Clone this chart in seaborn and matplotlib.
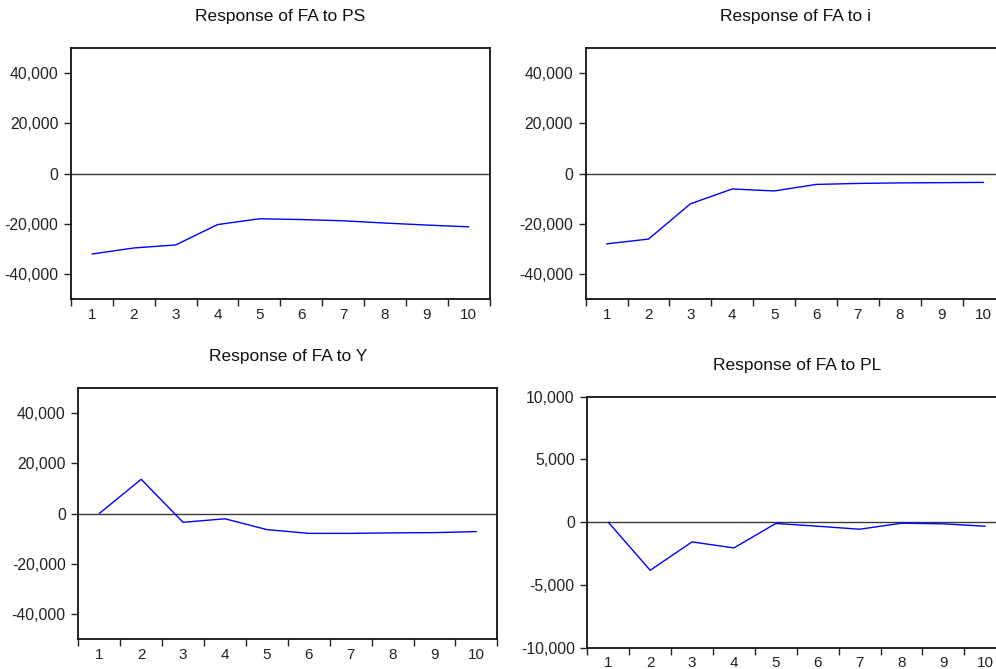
import matplotlib
matplotlib.use("Agg")
import matplotlib.pyplot as plt
import seaborn as sns
import pandas as pd
from matplotlib.ticker import FixedLocator, FuncFormatter, NullFormatter

sns.set_theme(style="white")
plt.rcParams['font.family'] = ['Liberation Sans', 'DejaVu Sans']

periods = [1, 2, 3, 4, 5, 6, 7, 8, 9, 10]
resp_ps = [-32000, -29600, -28400, -20300, -18000, -18300, -18800, -19700, -20500, -21200]
resp_i = [-27900, -26000, -12000, -6100, -6900, -4300, -3900, -3700, -3600, -3500]
resp_y = [0, 13600, -3500, -2100, -6400, -7900, -7900, -7700, -7600, -7200]
resp_pl = [0, -3830, -1570, -2050, -100, -320, -560, -80, -130, -320]

titles = ["Response of FA to PS", "Response of FA to i", "Response of FA to Y", "Response of FA to PL"]
series = [resp_ps, resp_i, resp_y, resp_pl]
ylims = [(-50000, 50000), (-50000, 50000), (-50000, 50000), (-10000, 10000)]
yticks = [[-40000, -20000, 0, 20000, 40000]] * 3 + [[-10000, -5000, 0, 5000, 10000]]

W, H = 996, 669
# axes boxes in pixels: left, top, right, bottom
boxes = [(71, 47.7, 489.7, 299.3),
         (585.7, 47.7, 1004.5, 299.5),
         (78.3, 387.7, 497.3, 639.3),
         (587.3, 396.7, 1006.2, 647.7)]

fig = plt.figure(figsize=(W / 100, H / 100), dpi=100)

for k in range(4):
    l, t, r, b = boxes[k]
    ax = fig.add_axes([l / W, 1 - b / H, (r - l) / W, (b - t) / H])
    df = pd.DataFrame({"period": periods, "value": series[k]})
    ax.axhline(0, color="#3a3a3a", lw=1.0, zorder=1)
    sns.lineplot(data=df, x="period", y="value", ax=ax, color="#0000ff", lw=1.0, zorder=3)
    ax.set_xlim(0.5, 10.5)
    ax.set_ylim(*ylims[k])
    ax.set_xlabel("")
    ax.set_ylabel("")
    ax.set_title(titles[k], fontsize=12.5, pad=19, color="#111111")
    # x ticks: marks between periods, labels at periods
    ax.xaxis.set_major_locator(FixedLocator([p - 0.5 for p in periods] + [10.5]))
    ax.xaxis.set_major_formatter(NullFormatter())
    ax.xaxis.set_minor_locator(FixedLocator(periods))
    ax.xaxis.set_minor_formatter(FuncFormatter(lambda v, pos: f"{int(round(v))}"))
    ax.tick_params(axis="x", which="major", direction="out", length=5, width=1, color="#222222", bottom=True)
    ax.tick_params(axis="x", which="minor", length=0, pad=6, labelsize=11, labelcolor="#222222", bottom=True)
    ax.yaxis.set_major_locator(FixedLocator(yticks[k]))
    ax.yaxis.set_major_formatter(FuncFormatter(lambda v, pos: f"{v:,.0f}"))
    ax.tick_params(axis="y", which="major", direction="out", length=5, width=1, color="#222222",
                   left=True, pad=4, labelsize=11.3, labelcolor="#222222")
    for s in ax.spines.values():
        s.set_color("#111111")
        s.set_linewidth(1.3)
    ax.grid(False)

fig.savefig("out.png", dpi=100)
